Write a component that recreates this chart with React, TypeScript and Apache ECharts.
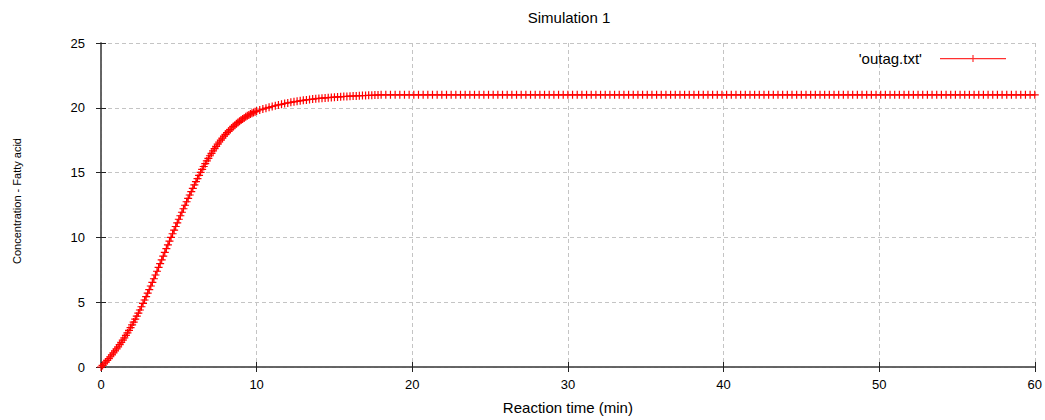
import React, { useEffect, useRef } from "react";
import * as echarts from "echarts";

const chartTitle = "Simulation 1";
const seriesName = "'outag.txt'";
const xAxisName = "Reaction time (min)";
const yAxisName = "Concentration - Fatty acid";

// Rising part of the curve (min, concentration)
const riseTime = [
  0, 0.1, 0.2, 0.3, 0.4, 0.5, 0.6, 0.7, 0.8, 0.9,
  1, 1.1, 1.2, 1.3, 1.4, 1.5, 1.6, 1.7, 1.8, 1.9,
  2, 2.1, 2.2, 2.3, 2.4, 2.5, 2.6, 2.7, 2.8, 2.9,
  3, 3.1, 3.2, 3.3, 3.4, 3.5, 3.6, 3.7, 3.8, 3.9,
  4, 4.1, 4.2, 4.3, 4.4, 4.5, 4.6, 4.7, 4.8, 4.9,
  5, 5.1, 5.2, 5.3, 5.4, 5.5, 5.6, 5.7, 5.8, 5.9,
  6, 6.1, 6.2, 6.3, 6.4, 6.5, 6.6, 6.7, 6.8, 6.9,
  7, 7.1, 7.2, 7.3, 7.4, 7.5, 7.6, 7.7, 7.8, 7.9,
  8, 8.1, 8.2, 8.3, 8.4, 8.5, 8.6, 8.7, 8.8, 8.9,
  9, 9.1, 9.2, 9.3, 9.4, 9.5, 9.6, 9.7, 9.8, 9.9,
  10,
];
const riseConc = [
  0,
  0.12, 0.25, 0.38, 0.51, 0.65,
  0.79, 0.94, 1.09, 1.24, 1.4,
  1.56, 1.73, 1.9, 2.07, 2.25,
  2.44, 2.63, 2.83, 3.04, 3.25,
  3.47, 3.69, 3.92, 4.16, 4.4,
  4.65, 4.91, 5.17, 5.43, 5.7,
  5.97, 6.25, 6.53, 6.81, 7.1,
  7.39, 7.68, 7.97, 8.26, 8.55,
  8.84, 9.13, 9.42, 9.71, 10.0,
  10.28, 10.56, 10.84, 11.12, 11.4,
  11.67, 11.94, 12.21, 12.48, 12.75,
  13.01, 13.27, 13.53, 13.79, 14.05,
  14.3, 14.54, 14.78, 15.02, 15.25,
  15.47, 15.69, 15.9, 16.1, 16.3,
  16.49, 16.67, 16.85, 17.03, 17.2,
  17.36, 17.51, 17.66, 17.81, 17.95,
  18.08, 18.2, 18.32, 18.44, 18.55,
  18.66, 18.76, 18.86, 18.96, 19.05,
  19.14, 19.22, 19.3, 19.38, 19.45,
  19.52, 19.58, 19.64, 19.7, 19.75,
];

// Settling part
const settleTime = [
  10.2, 10.4, 10.6, 10.8, 11, 11.2, 11.4, 11.6, 11.8, 12,
  12.2, 12.4, 12.6, 12.8, 13, 13.2, 13.4, 13.6, 13.8, 14,
  14.2, 14.4, 14.6, 14.8, 15, 15.2, 15.4, 15.6, 15.8, 16,
  16.2, 16.4, 16.6, 16.8, 17, 17.2, 17.4, 17.6, 17.8, 18,
];
const settleConc = [
  19.83, 19.9, 19.97, 20.04, 20.1, 20.16, 20.22, 20.27, 20.33, 20.38,
  20.42, 20.46, 20.5, 20.54, 20.58, 20.61, 20.64, 20.67, 20.7, 20.72,
  20.74, 20.76, 20.78, 20.8, 20.82, 20.84, 20.85, 20.87, 20.88, 20.9,
  20.91, 20.92, 20.93, 20.94, 20.95, 20.96, 20.97, 20.98, 20.99, 21.0,
];

// Plateau
const plateauTime = [
  18.3, 18.6, 18.9, 19.2, 19.5, 19.8, 20.1, 20.4, 20.7, 21.0,
  21.3, 21.6, 21.9, 22.2, 22.5, 22.8, 23.1, 23.4, 23.7, 24.0,
  24.3, 24.6, 24.9, 25.2, 25.5, 25.8, 26.1, 26.4, 26.7, 27.0,
  27.3, 27.6, 27.9, 28.2, 28.5, 28.8, 29.1, 29.4, 29.7, 30.0,
  30.3, 30.6, 30.9, 31.2, 31.5, 31.8, 32.1, 32.4, 32.7, 33.0,
  33.3, 33.6, 33.9, 34.2, 34.5, 34.8, 35.1, 35.4, 35.7, 36.0,
  36.3, 36.6, 36.9, 37.2, 37.5, 37.8, 38.1, 38.4, 38.7, 39.0,
  39.3, 39.6, 39.9, 40.2, 40.5, 40.8, 41.1, 41.4, 41.7, 42.0,
  42.3, 42.6, 42.9, 43.2, 43.5, 43.8, 44.1, 44.4, 44.7, 45.0,
  45.3, 45.6, 45.9, 46.2, 46.5, 46.8, 47.1, 47.4, 47.7, 48.0,
  48.3, 48.6, 48.9, 49.2, 49.5, 49.8, 50.1, 50.4, 50.7, 51.0,
  51.3, 51.6, 51.9, 52.2, 52.5, 52.8, 53.1, 53.4, 53.7, 54.0,
  54.3, 54.6, 54.9, 55.2, 55.5, 55.8, 56.1, 56.4, 56.7, 57.0,
  57.3, 57.6, 57.9, 58.2, 58.5, 58.8, 59.1, 59.4, 59.7, 60.0,
];
const plateauConc = [
  21, 21, 21, 21, 21, 21, 21, 21, 21, 21,
  21, 21, 21, 21, 21, 21, 21, 21, 21, 21,
  21, 21, 21, 21, 21, 21, 21, 21, 21, 21,
  21, 21, 21, 21, 21, 21, 21, 21, 21, 21,
  21, 21, 21, 21, 21, 21, 21, 21, 21, 21,
  21, 21, 21, 21, 21, 21, 21, 21, 21, 21,
  21, 21, 21, 21, 21, 21, 21, 21, 21, 21,
  21, 21, 21, 21, 21, 21, 21, 21, 21, 21,
  21, 21, 21, 21, 21, 21, 21, 21, 21, 21,
  21, 21, 21, 21, 21, 21, 21, 21, 21, 21,
  21, 21, 21, 21, 21, 21, 21, 21, 21, 21,
  21, 21, 21, 21, 21, 21, 21, 21, 21, 21,
  21, 21, 21, 21, 21, 21, 21, 21, 21, 21,
  21, 21, 21, 21, 21, 21, 21, 21, 21, 21,
];

const FONT = "'Liberation Sans', Arial, Helvetica, sans-serif";
const AXIS_COLOR = "#5c5c5c";
const GRID_COLOR = "#c4c4c4";
const RED = "#ff0000";
const PLUS = "path://M3.4,0h1.2v8h-1.2z M0,3.4h8v1.2h-8z";
const LEGEND_ICON = "path://M0,3h66v1.2h-66z M32.4,0h1.2v7h-1.2z";

export default function App() {
  const ref = useRef<HTMLDivElement>(null);

  useEffect(() => {
    if (!ref.current) return;
    const chart = echarts.init(ref.current, null, { renderer: "svg" });
    const time = [...riseTime, ...settleTime, ...plateauTime];
    const conc = [...riseConc, ...settleConc, ...plateauConc];
    const data = time.map((t, i) => [t, conc[i]]);

    const tickStyle = { show: true, inside: true, length: 5, lineStyle: { color: "#222", width: 1 } };
    const lineStyle = { show: true, lineStyle: { color: AXIS_COLOR, width: 1.5 } };
    const splitLine = { show: true, lineStyle: { color: GRID_COLOR, width: 1, type: [4, 3] } };
    const labelStyle = { color: "#000", fontFamily: FONT, fontSize: 13 };

    chart.setOption({
      animation: false,
      backgroundColor: "#ffffff",
      title: {
        text: chartTitle,
        left: 569,
        top: 10,
        padding: 0,
        textAlign: "center",
        textStyle: { fontFamily: FONT, fontSize: 15, fontWeight: "normal", color: "#000" },
      },
      legend: {
        data: [{ name: seriesName, icon: LEGEND_ICON }],
        right: 39,
        top: 51,
        padding: 0,
        align: "right",
        itemWidth: 66,
        itemHeight: 7,
        selectedMode: false,
        itemStyle: { color: "#ff3030" },
        textStyle: { fontFamily: FONT, fontSize: 15, color: "#000", padding: [4, 13, 0, 0] },
      },
      grid: { left: 101, right: 8, top: 43, bottom: 49, containLabel: false },
      xAxis: [
        {
          type: "value",
          position: "bottom",
          min: 0,
          max: 60,
          interval: 10,
          name: xAxisName,
          nameLocation: "middle",
          nameGap: 33,
          nameTextStyle: { ...labelStyle, fontSize: 15 },
          axisLine: lineStyle,
          axisTick: tickStyle,
          axisLabel: { ...labelStyle, margin: 11 },
          splitLine,
        },
        {
          type: "value",
          position: "top",
          min: 0,
          max: 60,
          interval: 10,
          axisLine: lineStyle,
          axisTick: tickStyle,
          axisLabel: { show: false },
          splitLine: { show: false },
        },
      ],
      yAxis: [
        {
          type: "value",
          position: "left",
          min: 0,
          max: 25,
          interval: 5,
          name: yAxisName,
          nameLocation: "middle",
          nameGap: 79,
          nameRotate: 90,
          nameTextStyle: { ...labelStyle, fontSize: 11, padding: [0, 0, 0, 8] },
          axisLine: lineStyle,
          axisTick: tickStyle,
          axisLabel: { ...labelStyle, margin: 16 },
          splitLine,
        },
        {
          type: "value",
          position: "right",
          min: 0,
          max: 25,
          interval: 5,
          axisLine: lineStyle,
          axisTick: tickStyle,
          axisLabel: { show: false },
          splitLine: { show: false },
        },
      ],
      series: [
        {
          name: seriesName,
          type: "line",
          xAxisIndex: 0,
          yAxisIndex: 0,
          data,
          showAllSymbol: true,
          symbol: PLUS,
          symbolSize: 8,
          itemStyle: { color: RED },
          lineStyle: { color: RED, width: 1 },
          clip: false,
          z: 5,
        },
      ],
    });

    return () => chart.dispose();
  }, []);

  return (
    <div
      ref={ref}
      style={{ position: "fixed", left: 0, top: 0, width: 1045, height: 420, background: "#fff" }}
    />
  );
}
